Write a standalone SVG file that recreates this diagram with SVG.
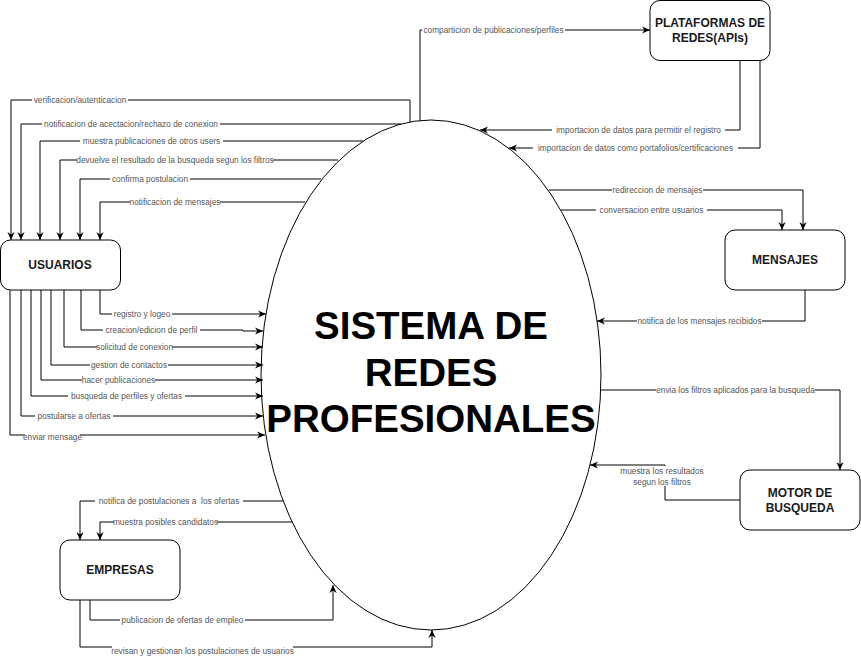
<svg xmlns="http://www.w3.org/2000/svg" width="861" height="657" viewBox="0 0 861 657">
<style>
.box{fill:#fff;stroke:#000;stroke-width:1}
.bt{font-family:"Liberation Sans",Arial,sans-serif;font-weight:bold;font-size:12px;fill:#1a1a1a;text-anchor:middle}
.main{font-family:"Liberation Sans",Arial,sans-serif;font-weight:bold;font-size:38.5px;fill:#000;text-anchor:middle}
.e{fill:none;stroke:#000;stroke-width:1;marker-end:url(#a)}
.lb{fill:#fff}
.lt{font-family:"Liberation Sans",Arial,sans-serif;font-size:8.3px;fill:#555;text-anchor:middle;dominant-baseline:central}
</style>
<defs>
<marker id="a" viewBox="0 0 10 10" refX="10" refY="5" markerWidth="8" markerHeight="8" markerUnits="userSpaceOnUse" orient="auto">
<path d="M0,0.5 L10,5 L0,9.5 L3,5 z" fill="#000"/>
</marker>
</defs>
<rect width="861" height="657" fill="#fff"/>

<g id="sistema">
<ellipse cx="431" cy="375" rx="170" ry="255" fill="#fff" stroke="#000" stroke-width="1"/>
<text class="main" x="431" y="339">SISTEMA DE</text>
<text class="main" x="431" y="385.5">REDES</text>
<text class="main" x="431" y="432">PROFESIONALES</text>
</g>

<g id="plataformas">
<rect class="box" x="650" y="0.5" width="120" height="60" rx="10"/>
<text class="bt" x="710" y="27">PLATAFORMAS DE</text>
<text class="bt" x="710" y="42">REDES(APIs)</text>
</g>

<g id="usuarios">
<rect class="box" x="0.5" y="240" width="120" height="50" rx="10"/>
<text class="bt" x="60" y="269">USUARIOS</text>
</g>

<g id="mensajes">
<rect class="box" x="725" y="230" width="120" height="60" rx="10"/>
<text class="bt" x="785" y="264">MENSAJES</text>
</g>

<g id="motor">
<rect class="box" x="740" y="470" width="120" height="60" rx="10"/>
<text class="bt" x="800" y="497">MOTOR DE</text>
<text class="bt" x="800" y="512">BUSQUEDA</text>
</g>

<g id="empresas">
<rect class="box" x="60" y="540" width="120" height="60" rx="10"/>
<text class="bt" x="120" y="574">EMPRESAS</text>
</g>

<g id="connectors">
<path class="e" d="M410,122 V100 H11 V240"/>
<path class="e" d="M401,124 H21 V240"/>
<path class="e" d="M363,141 H40 V240"/>
<path class="e" d="M338,160 H60 V240"/>
<path class="e" d="M321,179 H80 V240"/>
<path class="e" d="M305,202 H100 V240"/>
<path class="e" d="M100,290 V314 H266"/>
<path class="e" d="M81,290 V330 H243 V331 H263"/>
<path class="e" d="M64,290 V347 H263"/>
<path class="e" d="M51,290 V365 H263"/>
<path class="e" d="M41,290 V380 H263"/>
<path class="e" d="M31,290 V396 H263"/>
<path class="e" d="M21,290 V416 H263"/>
<path class="e" d="M10,290 V435 H265"/>
<path class="e" d="M420,120.5 V30 H650"/>
<path class="e" d="M740,60.5 V130 H480"/>
<path class="e" d="M760,60.5 V148 H509"/>
<path class="e" d="M549,190 H803 V230"/>
<path class="e" d="M561,210 H782 V230"/>
<path class="e" d="M805,290 V321 H597"/>
<path class="e" d="M601,390 H840 V470"/>
<path class="e" d="M740,500 H665 V465 H590"/>
<path class="e" d="M283,501 H80 V540"/>
<path class="e" d="M292,522 H100 V540"/>
<path class="e" d="M90,600 V620 H333 V585"/>
<path class="e" d="M80,600 V647 H432 V630"/>

<rect class="lb" x="32" y="96" width="96" height="8"/>
<text class="lt" x="80" y="100">verificacion/autenticacion</text>
<rect class="lb" x="42" y="120" width="178" height="8"/>
<text class="lt" x="131" y="124">notificacion de acectacion/rechazo de conexion</text>
<rect class="lb" x="80" y="137" width="143" height="8"/>
<text class="lt" x="151.5" y="141">muestra publicaciones de otros users</text>
<rect class="lb" x="77" y="156" width="196" height="8"/>
<text class="lt" x="175" y="160">devuelve el resultado de la busqueda segun los filtros</text>
<rect class="lb" x="110" y="175" width="80" height="8"/>
<text class="lt" x="150" y="179">confirma postulacion</text>
<rect class="lb" x="130" y="198" width="90" height="8"/>
<text class="lt" x="175" y="202">notificacion de mensajes</text>

<rect class="lb" x="112" y="310" width="60" height="8"/>
<text class="lt" x="142" y="314">registro y logeo</text>
<rect class="lb" x="103" y="326" width="97" height="8"/>
<text class="lt" x="151.5" y="330">creacion/edicion de perfil</text>
<rect class="lb" x="97" y="343" width="75" height="8"/>
<text class="lt" x="134.5" y="347">solicitud de conexion</text>
<rect class="lb" x="90" y="361" width="78" height="8"/>
<text class="lt" x="129" y="365">gestion de contactos</text>
<rect class="lb" x="82" y="376" width="73" height="8"/>
<text class="lt" x="118.5" y="380">hacer publicaciones</text>
<rect class="lb" x="68" y="392" width="117" height="8"/>
<text class="lt" x="126.5" y="396">busqueda de perfiles y ofertas</text>
<rect class="lb" x="35" y="412" width="78" height="8"/>
<text class="lt" x="74" y="416">postularse a ofertas</text>
<rect class="lb" x="25" y="432" width="55" height="8"/>
<text class="lt" x="52.5" y="436.5">enviar mensage</text>

<rect class="lb" x="422" y="26" width="143" height="8"/>
<text class="lt" x="493.5" y="30">comparticion de publicaciones/perfiles</text>
<rect class="lb" x="552" y="126" width="173" height="8"/>
<text class="lt" x="638.5" y="130">importacion de datos para permitir el registro</text>
<rect class="lb" x="533" y="144" width="205" height="8"/>
<text class="lt" x="635.5" y="148">importacion de datos como portafolios/certificaciones</text>

<rect class="lb" x="612" y="186" width="91" height="8"/>
<text class="lt" x="657.5" y="190">redireccion de mensajes</text>
<rect class="lb" x="596" y="206" width="111" height="8"/>
<text class="lt" x="651.5" y="210">conversacion entre usuarios</text>
<rect class="lb" x="637" y="317" width="125" height="8"/>
<text class="lt" x="699.5" y="321">notifica de los mensajes recibidos</text>

<rect class="lb" x="656" y="386" width="159" height="8"/>
<text class="lt" x="735.5" y="390">envia los filtros aplicados para la busqueda</text>
<rect class="lb" x="624" y="466" width="77" height="20"/>
<text class="lt" x="662" y="470.5">muestra los resultados</text>
<text class="lt" x="662" y="481.5">segun los filtros</text>

<rect class="lb" x="95" y="497" width="148" height="8"/>
<text class="lt" x="169" y="501">notifica de postulaciones a&#160; los ofertas</text>
<rect class="lb" x="114" y="518" width="103" height="8"/>
<text class="lt" x="165.5" y="522">muestra posibles candidatos</text>
<rect class="lb" x="120" y="616" width="125" height="8"/>
<text class="lt" x="182.5" y="620">publicacion de ofertas de empleo</text>
<rect class="lb" x="112" y="645" width="181" height="10"/>
<text class="lt" x="202.5" y="651">revisan y gestionan los postulaciones de usuarios</text>
</g>
</svg>
